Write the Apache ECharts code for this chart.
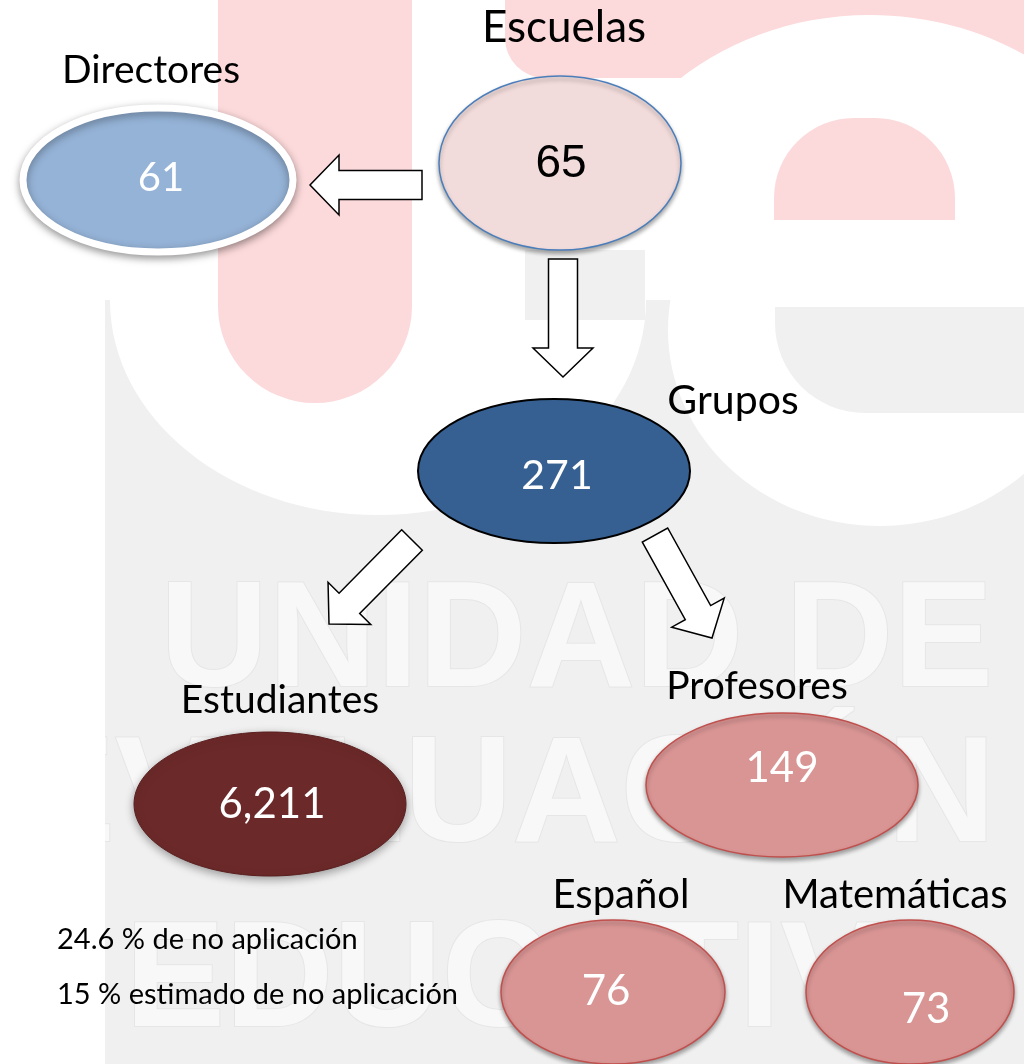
<!DOCTYPE html>
<html>
<head>
<meta charset="utf-8">
<script src="https://cdn.jsdelivr.net/npm/echarts@6.0.0/dist/echarts.min.js"></script>
<style>
  html, body { margin: 0; padding: 0; background: #fff; }
  #main { width: 1024px; height: 1064px; }
</style>
</head>
<body>
<div id="main"></div>
<script>
// datos del esquema
const nodeNames = ['Directores', 'Escuelas', 'Grupos', 'Estudiantes', 'Profesores', 'Español', 'Matemáticas'];
const nodeValues = [61, 65, 271, 6211, 149, 76, 73];
const notes = ['24.6 % de no aplicación', '15 % estimado de no aplicación'];
const watermarkRows = ['UNIDAD DE', 'EVALUACIÓN', 'EDUCATIVA'];

// layout en px (eje oculto 0..1024 x 0..1064)
const nodeCenter = [[158, 180], [560, 163], [554, 471], [270, 804], [782, 785], [613, 992], [910, 992]];
const nodeRadius = [[135, 72], [121, 87], [136, 72], [136, 72], [136, 72], [112, 72], [104, 72]];
const valuePos = [[161, 178], [561, 164], [557, 476], [272, 804], [782, 768], [606, 991], [926, 1009]];
const labelPos = [[151, 70], [564, 28], [733, 401], [280, 700], [757, 686], [621, 895], [895, 895]];
// flechas: cola -> punta
const arrowTail = [[422, 185], [563, 259], [412, 540], [655, 535]];
const arrowTip = [[310, 185], [563, 377], [329, 624], [712, 638]];
const notePos = [[57, 940], [57, 995]];

// estilos por nodo
const nodeStyle = [
  { fill: '#95b3d7', stroke: '#ffffff', lw: 7, shadow: 8, text: '#ffffff', font: 'Lato', size: 40 },
  { fill: '#f2dcdb', stroke: '#4a7ebb', lw: 1.5, shadow: 4, text: '#000000', font: 'Liberation Sans', size: 46 },
  { fill: '#366092', stroke: '#000000', lw: 2, shadow: 0, text: '#ffffff', font: 'Lato', size: 41 },
  { fill: '#6c2929', stroke: '#5a1f1f', lw: 1, shadow: 8, text: '#ffffff', font: 'Lato', size: 42 },
  { fill: '#d99594', stroke: '#c0504d', lw: 1.5, shadow: 4, text: '#ffffff', font: 'Lato', size: 42 },
  { fill: '#d99594', stroke: '#c0504d', lw: 1.5, shadow: 4, text: '#ffffff', font: 'Lato', size: 42 },
  { fill: '#d99594', stroke: '#c0504d', lw: 1.5, shadow: 4, text: '#ffffff', font: 'Lato', size: 42 }
];
const labelSize = [39, 44, 41, 39, 39, 40, 40];

const chart = echarts.init(document.getElementById('main'), null, { renderer: 'canvas' });

const pink = '#fcd9da';
const gray = '#f0f0f0';

// marca de agua de fondo (logo "ue" y letras)
const watermark = [
  { type: 'rect', shape: { x: 505, y: -20, width: 540, height: 98, r: [0, 0, 0, 40] }, style: { fill: pink } },
  { type: 'ellipse', shape: { cx: 870, cy: 265, rx: 285, ry: 250 }, style: { fill: '#ffffff' } },
  { type: 'rect', shape: { x: 105, y: 300, width: 919, height: 764 }, style: { fill: gray } },
  { type: 'ellipse', shape: { cx: 378, cy: 300, rx: 268, ry: 215 }, style: { fill: '#ffffff' } },
  { type: 'ellipse', shape: { cx: 880, cy: 330, rx: 212, ry: 196 }, style: { fill: '#ffffff' } },
  { type: 'rect', shape: { x: 775, y: 307, width: 260, height: 106, r: [0, 0, 0, 90] }, style: { fill: gray } },
  { type: 'rect', shape: { x: 525, y: 250, width: 120, height: 70 }, style: { fill: gray } },
  { type: 'rect', shape: { x: 218, y: -10, width: 194, height: 413, r: [0, 0, 97, 97] }, style: { fill: pink } },
  { type: 'rect', shape: { x: 774, y: 118, width: 181, height: 102, r: [80, 80, 0, 0] }, style: { fill: pink } }
];
const rowPos = [[160, 645], [15, 800], [125, 985]];
watermarkRows.forEach((t, i) => {
  watermark.push({
    type: 'text', x: rowPos[i][0], y: rowPos[i][1],
    style: {
      text: t, fill: '#f8f8f8', stroke: '#e6e6e6', lineWidth: 2,
      font: 'bold 150px "Liberation Sans"', verticalAlign: 'middle', align: 'left'
    }
  });
});
watermark.push({ type: 'rect', shape: { x: 0, y: 300, width: 105, height: 764 }, style: { fill: '#ffffff' } });
notes.forEach((t, i) => {
  watermark.push({
    type: 'text', x: notePos[i][0], y: notePos[i][1], z: 20,
    style: { text: t, fill: '#000', font: '29px Lato', verticalAlign: 'middle', align: 'left' }
  });
});

function renderNode(params, api) {
  const i = params.dataIndex;
  const st = nodeStyle[i];
  const c = api.coord([api.value(0), api.value(1)]);
  const r = api.size([api.value(2), api.value(3)]);
  const vp = api.coord(valuePos[i]);
  const lp = api.coord(labelPos[i]);
  return {
    type: 'group',
    children: [
      {
        type: 'ellipse',
        shape: { cx: c[0], cy: c[1], rx: Math.abs(r[0]), ry: Math.abs(r[1]) },
        style: {
          fill: st.fill, stroke: st.stroke, lineWidth: st.lw,
          shadowBlur: st.shadow, shadowOffsetY: st.shadow ? 3 : 0,
          shadowColor: 'rgba(0,0,0,0.35)'
        }
      },
      {
        type: 'text', x: vp[0], y: vp[1],
        style: {
          text: api.value(4).toLocaleString('en-US'), fill: st.text,
          font: st.size + 'px "' + st.font + '"', align: 'center', verticalAlign: 'middle'
        }
      },
      {
        type: 'text', x: lp[0], y: lp[1],
        style: {
          text: nodeNames[i], fill: '#000',
          font: labelSize[i] + 'px Lato', align: 'center', verticalAlign: 'middle'
        }
      }
    ]
  };
}

function renderArrow(params, api) {
  const a = api.coord([api.value(0), api.value(1)]);
  const b = api.coord([api.value(2), api.value(3)]);
  const dx = b[0] - a[0], dy = b[1] - a[1];
  const len = Math.sqrt(dx * dx + dy * dy);
  const ux = dx / len, uy = dy / len;
  const nx = -uy, ny = ux;
  const sw = 14.5, hw = 30, hl = 29;
  const nk = [b[0] - ux * hl, b[1] - uy * hl];
  const pts = [
    [a[0] + nx * sw, a[1] + ny * sw],
    [nk[0] + nx * sw, nk[1] + ny * sw],
    [nk[0] + nx * hw, nk[1] + ny * hw],
    [b[0], b[1]],
    [nk[0] - nx * hw, nk[1] - ny * hw],
    [nk[0] - nx * sw, nk[1] - ny * sw],
    [a[0] - nx * sw, a[1] - ny * sw]
  ];
  return {
    type: 'polygon',
    shape: { points: pts },
    style: { fill: '#ffffff', stroke: '#000000', lineWidth: 1.5 }
  };
}

const option = {
  animation: false,
  backgroundColor: '#ffffff',
  grid: { left: 0, right: 0, top: 0, bottom: 0 },
  xAxis: { type: 'value', min: 0, max: 1024, show: false },
  yAxis: { type: 'value', min: 0, max: 1064, inverse: true, show: false },
  graphic: { elements: watermark },
  series: [
    {
      type: 'custom',
      name: 'flechas',
      z: 5,
      clip: false,
      renderItem: renderArrow,
      data: arrowTail.map((t, i) => [t[0], t[1], arrowTip[i][0], arrowTip[i][1]])
    },
    {
      type: 'custom',
      name: 'nodos',
      z: 6,
      clip: false,
      renderItem: renderNode,
      data: nodeNames.map((n, i) => ({
        name: n,
        value: [nodeCenter[i][0], nodeCenter[i][1], nodeRadius[i][0], nodeRadius[i][1], nodeValues[i]]
      }))
    }
  ]
};

chart.setOption(option);
</script>
</body>
</html>
